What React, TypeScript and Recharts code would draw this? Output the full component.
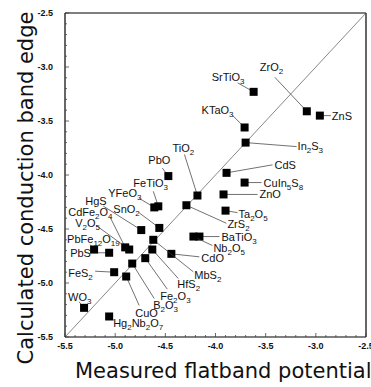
import React from 'react';
import { ScatterChart, Scatter, XAxis, YAxis, ReferenceLine } from 'recharts';

const compounds = [
  'SrTiO_3', 'ZrO_2', 'ZnS', 'KTaO_3', 'In_2S_3', 'CdS', 'CuIn_5S_8', 'ZnO', 'Ta_2O_5', 'TiO_2',
  'ZrS_2', 'BaTiO_3', 'Nb_2O_5', 'CdO', 'MbS_2', 'HfS_2', 'Fe_2O_3', 'B_2O_3', 'CuO', 'Hg_2Nb_2O_7',
  'WO_3', 'FeS_2', 'PbS', 'PbFe_12O_19', 'V_2O_5', 'CdFe_2O_4', 'HgS', 'SnO_2', 'YFeO_3', 'FeTiO_3', 'PbO',
];
const measured = [
  -3.62, -3.09, -2.96, -3.71, -3.70, -3.89, -3.71, -3.92, -3.90, -4.18,
  -4.29, -4.16, -4.22, -4.44, -4.62, -4.63, -4.70, -4.83, -4.89, -5.06,
  -5.31, -5.01, -5.06, -5.21, -4.86, -4.90, -4.74, -4.56, -4.61, -4.57, -4.47,
];
const calculated = [
  -3.23, -3.41, -3.45, -3.56, -3.70, -3.98, -4.07, -4.18, -4.33, -4.19,
  -4.28, -4.57, -4.57, -4.73, -4.60, -4.69, -4.77, -4.82, -4.94, -5.31,
  -5.23, -4.90, -4.72, -4.69, -4.69, -4.67, -4.51, -4.49, -4.30, -4.29, -4.01,
];
const axisTicks = [-5.5, -5.0, -4.5, -4.0, -3.5, -3.0, -2.5];
const minorTicks = Array.from({ length: 31 }, (_, i) => Math.round((-5.5 + i * 0.1) * 10) / 10);

// label placement relative to the marker: [labelX, labelY, leaderStartX, leaderStartY]
const LABEL_LAYOUT: Record<string, [number, number, number, number]> = {
  'SrTiO_3': [-42, -15, -16, -9],
  'ZrO_2': [-47, -44, -32, -34],
  'ZnS': [12, 0, 11, 0],
  'KTaO_3': [-43, -17, -12, -12],
  'In_2S_3': [52, 3, 51, 4],
  'CdS': [48, -8, 46, -8],
  'CuIn_5S_8': [19, 0, 17, 0],
  'ZnO': [36, 0, 34, 0],
  'Ta_2O_5': [13, 3, 12, 2],
  'TiO_2': [-25, -48, -13, -41],
  'ZrS_2': [41, 19, 40, 18],
  'BaTiO_3': [22, 0, 20, 0],
  'Nb_2O_5': [20, 11, 19, 9],
  'CdO': [30, 4, 28, 3],
  'MbS_2': [41, 35, 40, 32],
  'HfS_2': [25, 34, 26, 29],
  'Fe_2O_3': [15, 38, 22, 31],
  'B_2O_3': [21, 41, 22, 35],
  'CuO': [9, 36, 13, 29],
  'Hg_2Nb_2O_7': [4, 7, 5, 4],
  'WO_3': [-16, -11, -5, -6],
  'FeS_2': [-46, 1, -19, -1],
  'PbS': [-39, 0, -19, 0],
  'PbFe_12O_19': [-27, -11, -4, -5],
  'V_2O_5': [-54, -27, -33, -24],
  'CdFe_2O_4': [-57, -35, -15, -30],
  'HgS': [-56, -29, -38, -24],
  'SnO_2': [-46, -19, -20, -15],
  'YFeO_3': [-46, -14, -15, -9],
  'FeTiO_3': [-25, -23, -5, -15],
  'PbO': [-20, -16, -6, -8],
};

const data = compounds.map((name, i) => ({ name, x: measured[i], y: calculated[i] }));

const LABEL_FONT = '"Liberation Sans", Arial, sans-serif';
const TICK_FONT = 'Arial, "Liberation Sans", sans-serif';
const TITLE_FONT = '"DejaVu Sans", Verdana, sans-serif';

function Chem({ x, y, label }: { x: number; y: number; label: string }) {
  const parts = label.split(/_(\d+)/);
  const nodes: React.ReactNode[] = [];
  let sub = false;
  parts.forEach((p, i) => {
    const isSub = i % 2 === 1;
    if (p === '') return;
    let dy = 0;
    if (isSub && !sub) dy = 3;
    if (!isSub && sub) dy = -3;
    sub = isSub;
    nodes.push(
      <tspan key={i} dy={dy} fontSize={isSub ? 8 : 11}>{p}</tspan>
    );
  });
  return (
    <text x={x} y={y + 4} fontFamily={LABEL_FONT} fontSize={11} fill="#111">
      {nodes}
    </text>
  );
}

function Marker(props: any) {
  const { cx, cy, payload } = props;
  const lay = LABEL_LAYOUT[payload.name] || [8, 0, 6, 0];
  return (
    <g>
      <line x1={cx + lay[2]} y1={cy + lay[3]} x2={cx} y2={cy} stroke="#333" strokeWidth={0.7} />
      <rect x={cx - 4} y={cy - 4} width={8} height={8} fill="#000" />
      <Chem x={cx + lay[0]} y={cy + lay[1]} label={payload.name} />
    </g>
  );
}

const isMajor = (v: number) => Math.abs(v * 2 - Math.round(v * 2)) < 1e-6;

const X_MARGIN = 6;
const Y_MARGIN = 12;

function XTick(props: any) {
  const { x, y, payload } = props;
  const v = payload.value as number;
  const major = isMajor(v);
  const axisY = y - X_MARGIN;
  return (
    <g>
      <line x1={x} x2={x} y1={axisY} y2={axisY - (major ? 4 : 2)} stroke="#444" strokeWidth={0.8} />
      {major && (
        <text x={x} y={y} dy="0.71em" textAnchor="middle" fontFamily={TICK_FONT} fontSize={9} fontWeight={700} fill="#111">
          {v.toFixed(1)}
        </text>
      )}
    </g>
  );
}

function YTick(props: any) {
  const { x, y, payload } = props;
  const v = payload.value as number;
  const major = isMajor(v);
  const axisX = x + Y_MARGIN;
  return (
    <g>
      <line x1={axisX} x2={axisX + (major ? 4 : 2)} y1={y} y2={y} stroke="#444" strokeWidth={0.8} />
      {major && (
        <text x={x} y={y} dy="0.35em" textAnchor="end" fontFamily={TICK_FONT} fontSize={9} fontWeight={700} fill="#111">
          {v.toFixed(1)}
        </text>
      )}
    </g>
  );
}

export default function App() {
  return (
    <div style={{ position: 'absolute', left: 0, top: 0, width: 371, height: 387, background: '#fff' }}>
      <ScatterChart width={371} height={387} margin={{ top: 13, right: 5, bottom: 0, left: 0 }}>
        <XAxis
          type="number"
          dataKey="x"
          domain={[-5.5, -2.5]}
          ticks={minorTicks}
          interval={0}
          tick={<XTick />}
          tickLine={false}
          tickSize={0}
          tickMargin={X_MARGIN}
          height={50}
          axisLine={{ stroke: '#000', strokeWidth: 1.2 }}
          allowDataOverflow
        />
        <YAxis
          type="number"
          dataKey="y"
          domain={[-5.5, -2.5]}
          ticks={minorTicks}
          interval={0}
          tick={<YTick />}
          tickLine={false}
          tickSize={0}
          tickMargin={Y_MARGIN}
          width={65}
          axisLine={{ stroke: '#000', strokeWidth: 1.2 }}
          allowDataOverflow
        />
        <ReferenceLine y={-2.5} stroke="#000" strokeWidth={1.2} />
        <ReferenceLine x={-2.5} stroke="#000" strokeWidth={1.2} />
        <ReferenceLine
          segment={[{ x: -5.5, y: -5.5 }, { x: -2.5, y: -2.5 }]}
          stroke="#555"
          strokeWidth={0.7}
        />
        <Scatter data={data} shape={<Marker />} isAnimationActive={false} />
        <text x={75} y={378} textAnchor="start" fontFamily={TITLE_FONT} fontSize={21} fill="#111">
          Measured flatband potential
        </text>
        <text
          x={33}
          y={188}
          transform="rotate(-90 33 188)"
          textAnchor="middle"
          fontFamily={TITLE_FONT}
          fontSize={21}
          fill="#111"
        >
          Calculated conduction band edge
        </text>
      </ScatterChart>
    </div>
  );
}
